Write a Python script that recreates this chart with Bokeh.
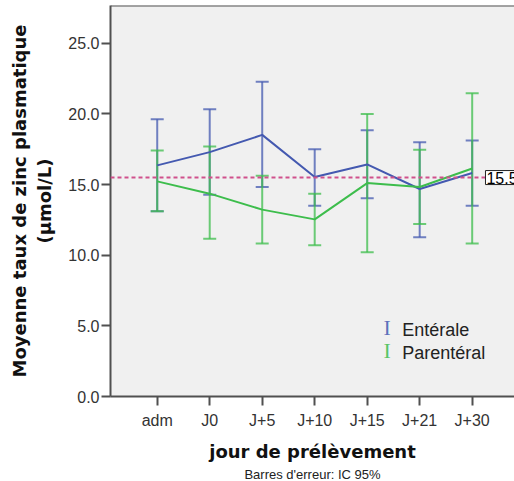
from bokeh.plotting import figure
from bokeh.models import (Range1d, FixedTicker, Whisker, ColumnDataSource, Span,
                          Label, Title, TeeHead, PrintfTickFormatter)
from bokeh.embed import file_html
from bokeh.resources import INLINE

days = ["adm", "J0", "J+5", "J+10", "J+15", "J+21", "J+30"]
ent_mean = [16.36, 17.30, 18.52, 15.54, 16.43, 14.69, 15.82]
ent_low = [13.11, 14.29, 14.83, 13.51, 14.03, 11.27, 13.51]
ent_high = [19.63, 20.34, 22.29, 17.51, 18.85, 18.00, 18.12]
par_mean = [15.23, 14.36, 13.23, 12.54, 15.11, 14.83, 16.14]
par_low = [13.11, 11.16, 10.83, 10.71, 10.21, 12.22, 10.83]
par_high = [17.42, 17.70, 15.63, 14.36, 20.00, 17.46, 21.47]
ref_value = 15.5
y_ticks = [0, 5, 10, 15, 20, 25]

BLUE = "#4459b0"
GREEN = "#3dbd4c"
xs = list(range(1, len(days) + 1))

p = figure(width=514, height=481, output_backend="svg", toolbar_location=None,
           x_range=Range1d(0.11, 7.806), y_range=Range1d(0, 27.68),
           min_border_left=110, min_border_right=0, min_border_top=5,
           min_border_bottom=84)
p.background_fill_color = "#f0f0f0"
p.border_fill_color = "white"
p.outline_line_color = None
p.xgrid.visible = False
p.ygrid.visible = False

# axes
p.xaxis.ticker = FixedTicker(ticks=xs)
p.xaxis.major_label_overrides = {x: d for x, d in zip(xs, days)}
p.yaxis.ticker = FixedTicker(ticks=y_ticks)
p.yaxis.formatter = PrintfTickFormatter(format="%.1f")
for ax in (p.xaxis, p.yaxis):
    ax.axis_line_color = "#505050"
    ax.axis_line_width = 2
    ax.major_tick_line_color = "#505050"
    ax.major_tick_line_width = 2
    ax.major_tick_in = 0
    ax.major_tick_out = 9
    ax.minor_tick_line_color = None
    ax.major_label_text_font = "Liberation Sans"
    ax.major_label_text_font_size = "16px"
    ax.major_label_text_color = "#333333"
    ax.axis_label_text_font = "DejaVu Sans"
    ax.axis_label_text_font_style = "bold"
    ax.axis_label_text_font_size = "18px"
    ax.axis_label_text_color = "#111111"
p.xaxis.major_label_standoff = 6
p.yaxis.major_label_standoff = 2
p.xaxis.axis_label = "jour de prélèvement"
p.yaxis.axis_label = "Moyenne taux de zinc plasmatique\n(µmol/L)"
p.xaxis.axis_label_standoff = 9
p.yaxis.axis_label_standoff = 10

# top frame line
p.add_layout(Span(location=27.68, dimension="width", line_color="#505050", line_width=2))

# reference line
p.add_layout(Span(location=ref_value, dimension="width", line_color="#d0508c",
                  line_width=2, line_dash="4 3"))

src_e = ColumnDataSource(dict(x=xs, m=ent_mean, lo=ent_low, hi=ent_high))
src_p = ColumnDataSource(dict(x=xs, m=par_mean, lo=par_low, hi=par_high))

for src, col in ((src_e, BLUE), (src_p, GREEN)):
    w = Whisker(source=src, base="x", upper="hi", lower="lo",
                line_color=col, line_width=2, line_alpha=0.75,
                upper_head=TeeHead(size=13, line_color=col, line_width=2, line_alpha=0.75),
                lower_head=TeeHead(size=13, line_color=col, line_width=2, line_alpha=0.75))
    p.add_layout(w)
    p.line("x", "m", source=src, line_color=col, line_width=2)

# reference value box
p.add_layout(Label(x=7.253, y=ref_value, text=str(ref_value), text_baseline="middle",
                   text_align="left", text_font="Liberation Sans",
                   text_font_size="16px", text_color="black",
                   background_fill_color="white", border_line_color="#222222",
                   border_line_width=1, padding=1))

# legend
leg = [("Entérale", BLUE, 4.86, 4.72), ("Parentéral", GREEN, 3.24, 3.10)]
for name, col, yi, yt in leg:
    p.add_layout(Label(x=5.38, y=yi, text="I", text_align="center", text_baseline="middle",
                       text_font="Liberation Serif", text_font_size="22px",
                       text_color=col, text_alpha=0.85))
    p.add_layout(Label(x=5.667, y=yt, text=name, text_align="left", text_baseline="middle",
                       text_font="Liberation Sans", text_font_size="18px",
                       text_color="#222222"))

# footnote under the axis title
p.add_layout(Title(text="Barres d'erreur: IC 95%", align="center", standoff=0,
                   text_font="Liberation Sans", text_font_size="13px",
                   text_font_style="normal", text_color="#222222"), "below")

open("out.html", "w").write(file_html(p, INLINE))
